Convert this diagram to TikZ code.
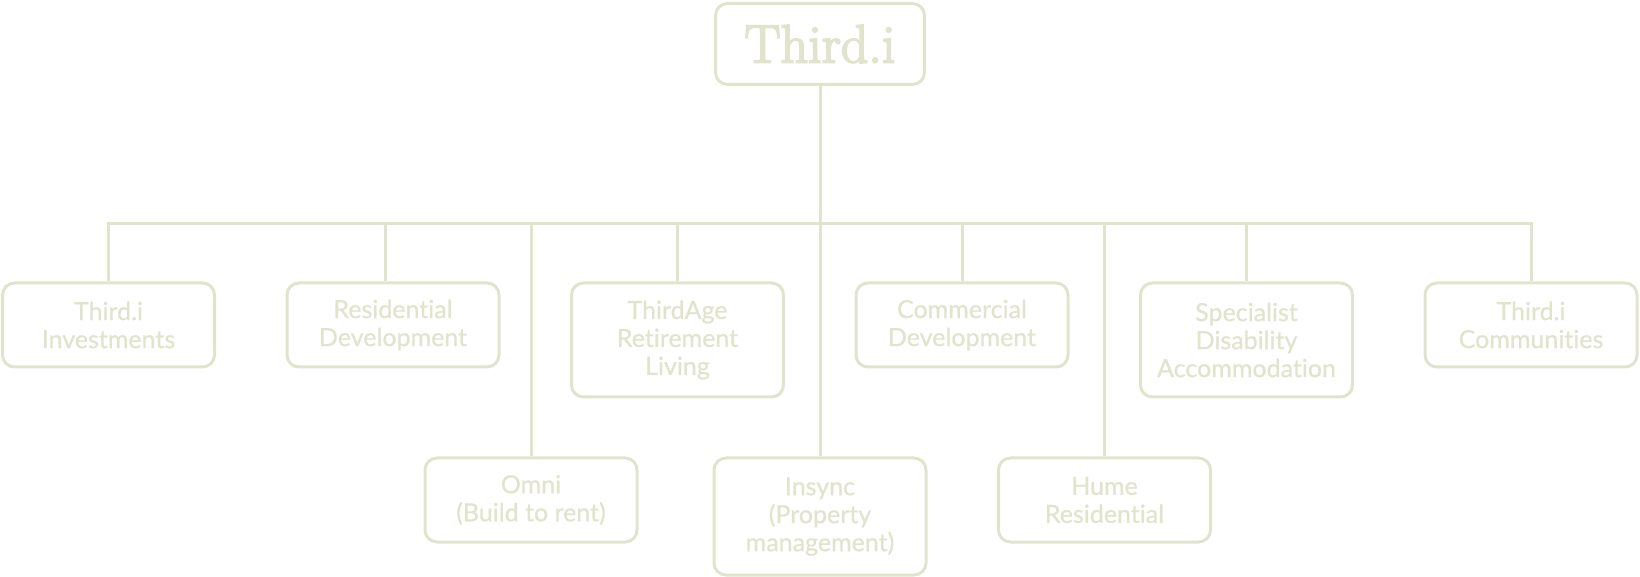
\documentclass[tikz,border=0pt]{standalone}
\usepackage{fontspec}
\setsansfont{Lato}[Ligatures=NoCommon, FakeBold=0.6]
\newfontfamily\titlefont{Latin Modern Roman}[FakeBold=3.5]
\usepackage{tikz}
\usetikzlibrary{calc}
\definecolor{sage}{RGB}{225,227,204}
\tikzset{
    unit/.style={draw=sage, line width=1.5pt, rounded corners=6pt, text=sage, align=center,
        minimum width=106pt, minimum height=42pt, inner sep=0pt, anchor=north,
        font=\sffamily\fontsize{12.5}{14}\selectfont},
    tall/.style={minimum height=57pt},
    link/.style={draw=sage, line width=1.5pt},
}

\begin{document}
\begin{tikzpicture}[x=0.5pt,y=-0.5pt]
    \useasboundingbox (0,0) rectangle (1640,577);
    \def\rowA{281.5}
    \def\rowB{456.5}

    \coordinate (bus) at (0,223.5);

    \node[unit, minimum width=104.5pt, minimum height=40.5pt, font=\titlefont\fontsize{27}{30}\selectfont] (top) at (820,2) {Third.i};

    % first row
    \node[unit] (inv) at (108.5,\rowA) {Third.i\\Investments};
    \node[unit] (res) at (393,\rowA) {Residential\\Development};
    \node[unit, tall] (age) at (677.5,\rowA) {ThirdAge\\Retirement\\Living};
    \node[unit] (com) at (962,\rowA) {Commercial\\Development};
    \node[unit, tall] (sda) at (1246.5,\rowA) {Specialist\\Disability\\Accommodation};
    \node[unit] (cmm) at (1531,\rowA) {Third.i\\Communities};

    % second row
    \node[unit] (omni) at (531,\rowB) {Omni\\(Build to rent)};
    \node[unit, minimum height=58.5pt] (ins) at (820,\rowB) {Insync\\(Property\\management)};
    \node[unit] (hume) at (1104.5,\rowB) {Hume\\Residential};

    % links
    \draw[link] (inv.north) -- (inv.north |- bus) -- (cmm.north |- bus) -- (cmm.north);
    \draw[link] (top.south) -- (ins.north);
    \draw[link] ([xshift=-4pt]res.north) -- ([xshift=-4pt]res.north |- bus);
    \foreach \b in {age, com, sda, omni, hume}
        \draw[link] (\b.north) -- (\b.north |- bus);
\end{tikzpicture}
\end{document}
